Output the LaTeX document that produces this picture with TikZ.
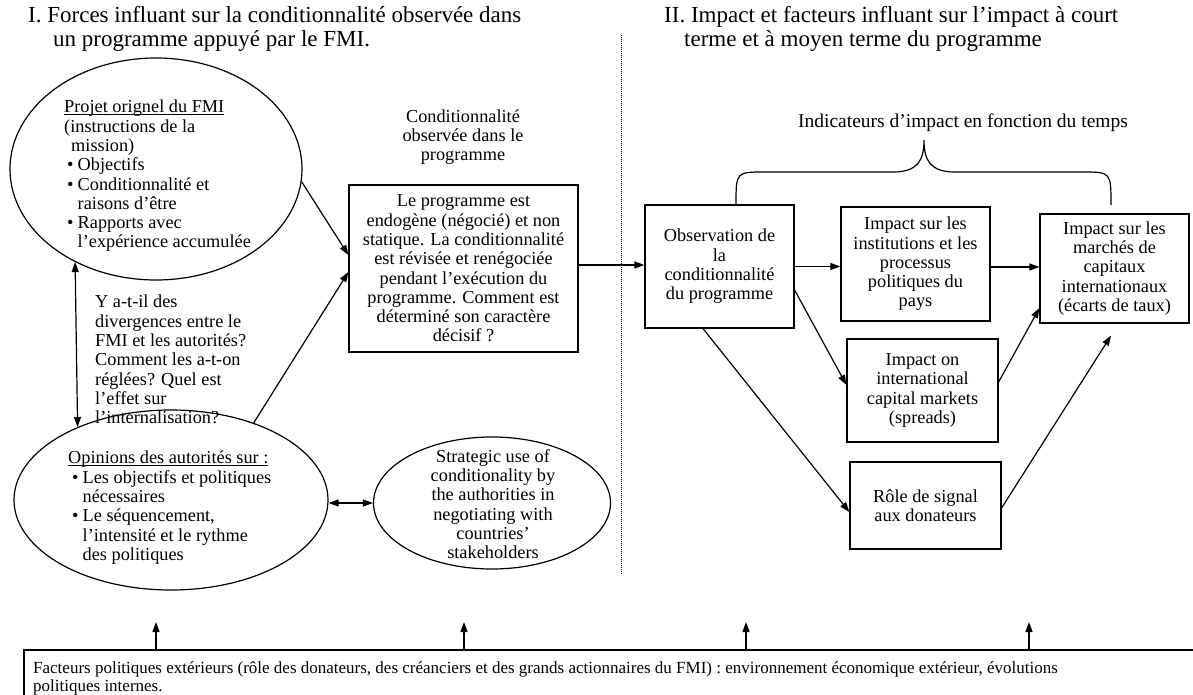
\documentclass[tikz,border=0pt]{standalone}
\usepackage{fontspec}
\setmainfont{Liberation Serif}
\usetikzlibrary{arrows.meta,shapes.geometric}
\newcommand\bodyf{\fontsize{18.3}{19.3}\selectfont}
\newcommand\titlef{\fontsize{23}{24}\selectfont}
\newcommand\bracef{\fontsize{19.5}{22}\selectfont}
\newcommand\footf{\fontsize{17}{18}\selectfont}
\newcommand\bul{\makebox[10.5pt][l]{\textbullet}}
\newcommand\myul[1]{\setbox0\hbox{#1}\rlap{\rule[-2.2pt]{\wd0}{0.8pt}}\box0}
\begin{document}
\begin{tikzpicture}[x=1pt,y=-1pt,
  box/.style={draw, line width=1.2pt, rectangle, inner sep=0pt, align=center, font=\bodyf},
  ell/.style={draw, line width=1.2pt, ellipse, inner sep=0pt},
  txt/.style={inner sep=0pt, font=\bodyf},
  arr/.style={line width=1.2pt, -{Triangle[length=10pt,width=7pt]}},
  darr/.style={line width=1.2pt, {Triangle[length=10pt,width=7pt]}-{Triangle[length=10pt,width=7pt]}},
  frame/.style={line width=1.2pt},
  sep/.style={line width=0.6pt, dash pattern=on 0.8pt off 1.2pt}
]
\useasboundingbox (0,0) rectangle (1193,695);
\fill[white] (0,0) rectangle (1193,695);

% titles
\node[txt, font=\titlef, anchor=north west, align=left] (t1) at (28,6)
  {I. Forces influant sur la conditionnalité observée dans\\\hspace*{25pt}un programme appuyé par le FMI.};
\node[txt, font=\titlef, anchor=north west, align=left] (t2) at (664,6)
  {II. Impact et facteurs influant sur l’impact à court\\\hspace*{20pt}terme et à moyen terme du programme};

% separator
\draw[sep] (621,35) -- (621,575);

% left ellipses
\node[ell, minimum width=292pt, minimum height=222pt] (e1) at (156,169) {};
\node[txt, anchor=north west, align=left] (e1t) at (64,100)
  {\myul{Projet orignel du FMI}\\(instructions de la\\\hspace*{7pt}mission)\\
   \hspace*{3pt}\bul Objectifs\\\hspace*{3pt}\bul Conditionnalité et\\\hspace*{13.5pt}raisons d’être\\
   \hspace*{3pt}\bul Rapports avec\\\hspace*{13.5pt}l’expérience accumulée};

\node[txt, anchor=north west, align=left] (q) at (95,295)
  {Y a-t-il des\\divergences entre le\\FMI et les autorités?\\Comment les a-t-on\\réglées? Quel est\\l’effet sur\\l’internalisation?};

\node[ell, minimum width=314pt, minimum height=180pt] (e2) at (171,500) {};
\node[txt, anchor=north west, align=left] (e2t) at (68,451)
  {\myul{Opinions des autorités sur :}\\\hspace*{4pt}\bul Les objectifs et politiques\\\hspace*{14.5pt}nécessaires\\
   \hspace*{4pt}\bul Le séquencement,\\\hspace*{14.5pt}l’intensité et le rythme\\\hspace*{14.5pt}des politiques};

\node[ell, minimum width=237pt, minimum height=132pt] (e3) at (492,503) {};
\node[txt, align=center] (e3t) at (493,504)
  {Strategic use of\\conditionality by\\the authorities in\\negotiating with\\countries’\\stakeholders};

% central box
\node[txt, align=center] (lab) at (463,137) {Conditionnalité\\observée dans le\\programme};
\node[box, minimum width=229pt, minimum height=167pt] (b1) at (463.5,268.5)
  {Le programme est\\endogène (négocié) et non\\statique. La conditionnalité\\est révisée et renégociée\\pendant l’exécution du\\programme. Comment est\\déterminé son caractère\\décisif ?};

% right side
\node[box, minimum width=149pt, minimum height=123pt] (obs) at (719.5,266.5)
  {Observation de\\la\\conditionnalité\\du programme};
\node[box, minimum width=149pt, minimum height=114pt] (inst) at (915.5,264)
  {Impact sur les\\institutions et les\\processus\\politiques du\\pays};
\node[box, minimum width=149pt, minimum height=109pt] (mc) at (1114.5,268.5)
  {Impact sur les\\marchés de\\capitaux\\internationaux\\(écarts de taux)};
\node[box, minimum width=151pt, minimum height=103pt] (ion) at (922.5,390.5)
  {Impact on\\international\\capital markets\\(spreads)};
\node[box, minimum width=151pt, minimum height=87pt] (role) at (925.5,505.5)
  {Rôle de signal\\aux donateurs};

\node[txt, font=\bracef] (bl) at (963,123) {Indicateurs d’impact en fonction du temps};
\draw[frame] ([xshift=16.5pt]obs.north) .. controls (736,172) .. (765,172) -- (893,172)
  .. controls (918,172) and (924,160) .. (924,140)
  .. controls (924,160) and (930,172) .. (955,172) -- (1082,172)
  .. controls (1111,172) .. (1111,205);

% connectors
\draw[arr] (e1.-5) -- ([yshift=13.5pt]b1.west);
\draw[arr] (e2.43) -- ([yshift=-3.5pt]b1.west);
\draw[darr] (e1.229.3) -- (e2.142.5);
\draw[darr] ([yshift=-3pt]e2.east) -- (e3.west);
\draw[arr] ([yshift=3.5pt]b1.east) -- ([yshift=1.5pt]obs.west);
\draw[arr] (obs.east) -- (obs.east -| inst.west);
\draw[arr] ([yshift=-3pt]inst.east) -- ([yshift=-3pt]inst.east -| mc.west);
\draw[arr] ([yshift=-23.5pt]obs.east) -- ([yshift=5.5pt]ion.west);
\draw[arr] ([xshift=-16.5pt]obs.south) -- ([yshift=-6.5pt]role.west);
\draw[arr] ([yshift=8.5pt]ion.east) -- ([yshift=-39.5pt]mc.west);
\draw[arr] ([yshift=-2.5pt]role.east) -- ([xshift=-3.5pt,yshift=-12pt]mc.south);

% bottom frame
\node[inner sep=0pt, anchor=north west, minimum width=1169pt, minimum height=45pt] (fb) at (24,650) {};
\draw[frame] (fb.south west) -- (fb.north west) -- (fb.north east);
\node[txt, font=\footf, anchor=north west, align=left] (fbt) at (33,661)
  {Facteurs politiques extérieurs (rôle des donateurs, des créanciers et des grands actionnaires du FMI) : environnement économique extérieur, évolutions\\politiques internes.};
\draw[arr] ([xshift=132pt]fb.north west) -- ++(0,-28);
\draw[arr] ([xshift=440pt]fb.north west) -- ++(0,-28);
\draw[arr] ([xshift=722pt]fb.north west) -- ++(0,-28);
\draw[arr] ([xshift=1005pt]fb.north west) -- ++(0,-28);
\end{tikzpicture}
\end{document}
